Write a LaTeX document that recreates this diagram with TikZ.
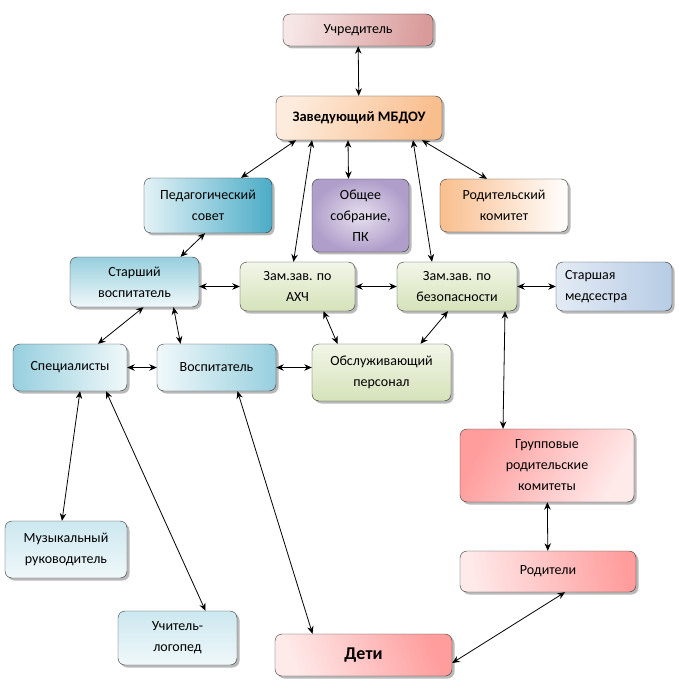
\documentclass[tikz,border=0pt]{standalone}
\usepackage{fontspec}
\setmainfont{Carlito}
\usetikzlibrary{arrows.meta, positioning, shadows}

\definecolor{roseA}{HTML}{F6E6E6}
\definecolor{roseB}{HTML}{D99A9A}
\definecolor{peachA}{HTML}{FDECDD}
\definecolor{peachB}{HTML}{F9BE8E}
\definecolor{tealA}{HTML}{E3F2F6}
\definecolor{tealB}{HTML}{4BACC6}
\definecolor{skyA}{HTML}{F0F8FA}
\definecolor{skyB}{HTML}{97CFDE}
\definecolor{lilacA}{HTML}{E6E0EE}
\definecolor{lilacB}{HTML}{B09ECA}
\definecolor{leafA}{HTML}{F2F6E8}
\definecolor{leafB}{HTML}{D5E2BA}
\definecolor{steelA}{HTML}{E3EBF5}
\definecolor{steelB}{HTML}{B7CCE4}
\definecolor{pinkA}{HTML}{FFEAEA}
\definecolor{pinkB}{HTML}{FF9C9C}

\begin{document}
\begin{tikzpicture}[
        x=1pt, y=-1pt,
        box/.style={rectangle, rounded corners=7pt, draw=black!80, thin,
          align=center, inner sep=2pt,
          font=\fontsize{14}{21}\selectfont,
          drop shadow={shadow xshift=2.5pt, shadow yshift=-2.5pt, fill=black!55}},
        every edge/.style={draw, thick, {Stealth[length=7.5pt,width=6.5pt]}-{Stealth[length=7.5pt,width=6.5pt]}}
      ]
      \useasboundingbox (0,0) rectangle (678,684);

      % Nodes
      \node[box, minimum width=150pt, minimum height=32pt,
        left color=roseA, right color=roseB, shading angle=80] (uch) at (358,30) {Учредитель};
      \node[box, minimum width=166pt, minimum height=44pt,
        left color=peachA, right color=peachB, shading angle=70,
        font=\fontsize{14.5}{18}\selectfont\bfseries] (zav) at (359,118) {Заведующий МБДОУ};

      \node[box, minimum width=128pt, minimum height=55pt,
        left color=tealA, right color=tealB] (ped) at (208,205.5) {Педагогический\\совет};
      \node[box, minimum width=97pt, minimum height=73pt,
        inner color=lilacA, outer color=lilacB] (obsh) at (360.5,215.5) {Общее\\собрание,\\ПК};
      \node[box, minimum width=128pt, minimum height=53pt,
        left color=peachB, right color=white] (rodk) at (504,205.5) {Родительский\\комитет};

      \node[box, minimum width=129pt, minimum height=50pt,
        top color=skyB, bottom color=skyA] (star) at (134.5,282) {Старший\\воспитатель};
      \node[box, minimum width=115pt, minimum height=49pt,
        top color=leafA, bottom color=leafB] (axc) at (297.5,286.5) {Зам.зав. по\\АХЧ};
      \node[box, minimum width=120pt, minimum height=49pt,
        top color=leafA, bottom color=leafB] (bez) at (457,286.5) {Зам.зав. по\\безопасности};
      \node[box, minimum width=116pt, minimum height=49pt, text width=98pt, align=left,
        left color=steelA, right color=steelB] (med) at (614,286.5) {Старшая\\медсестра};

      \node[box, minimum width=114pt, minimum height=47pt,
        left color=skyB, right color=skyA] (spec) at (70,367.5) {Специалисты};
      \node[box, minimum width=119pt, minimum height=47pt,
        left color=skyA, right color=skyB] (vosp) at (216.5,367.5) {Воспитатель};
      \node[box, minimum width=139pt, minimum height=57pt,
        top color=leafA, bottom color=leafB] (obsl) at (381.5,372.5) {Обслуживающий\\персонал};

      \node[box, minimum width=174pt, minimum height=73pt,
        left color=pinkB, right color=pinkA, shading angle=60] (grp) at (547,465.5) {Групповые\\родительские\\комитеты};
      \node[box, minimum width=176pt, minimum height=41pt,
        left color=pinkA, right color=pinkB, shading angle=100] (rod) at (548,571.5) {Родители};

      \node[box, minimum width=122pt, minimum height=57pt,
        top color=tealA!85!tealB, bottom color=skyA] (mus) at (66,549.5) {Музыкальный\\руководитель};
      \node[box, minimum width=119pt, minimum height=54pt,
        top color=tealA!85!tealB, bottom color=skyA] (ucit) at (177.5,638) {Учитель-\\логопед};
      \node[box, minimum width=177pt, minimum height=42pt,
        left color=pinkA, right color=pinkB, shading angle=110,
        font=\fontsize{18}{22}\selectfont\bfseries] (deti) at (363.5,655) {Дети};

      % Edges
      \draw (uch) edge (zav);
      \draw ([xshift=-63pt]zav.south) edge ([xshift=33pt]ped.north);
      \draw ([xshift=-47pt]zav.south) edge ([xshift=-4pt]axc.north);
      \draw ([xshift=-11pt]zav.south) edge ([xshift=-12pt]obsh.north);
      \draw ([xshift=54pt]zav.south) edge ([xshift=-25pt]bez.north);
      \draw ([xshift=63pt]zav.south) edge ([xshift=-17pt]rodk.north);
      \draw ([xshift=-3pt]ped.south) edge ([xshift=46pt]star.north);
      \draw (star.east |- axc.west) edge (axc.west);
      \draw (axc.east) edge (bez.west);
      \draw (bez.east) edge (med.west);
      \draw ([xshift=9pt]star.south) edge ([xshift=28pt]spec.north);
      \draw ([xshift=39pt]star.south) edge ([xshift=-36pt]vosp.north);
      \draw (spec.east) edge (vosp.west);
      \draw (vosp.east) edge (vosp.east -| obsl.west);
      \draw ([xshift=26pt]axc.south) edge ([xshift=-44pt]obsl.north);
      \draw ([xshift=-9pt]bez.south) edge ([xshift=39pt]obsl.north);
      \draw ([xshift=48pt]bez.south) edge ([xshift=-44pt]grp.north);
      \draw (grp) edge (rod);
      \draw ([xshift=17pt]rod.south) edge ([yshift=-8pt]deti.east);
      \draw ([xshift=10pt]spec.south) edge ([xshift=-4pt]mus.north);
      \draw ([xshift=36pt]spec.south) edge ([xshift=28pt]ucit.north);
      \draw ([xshift=21pt]vosp.south) edge ([xshift=-51pt]deti.north);
    \end{tikzpicture}
\end{document}
